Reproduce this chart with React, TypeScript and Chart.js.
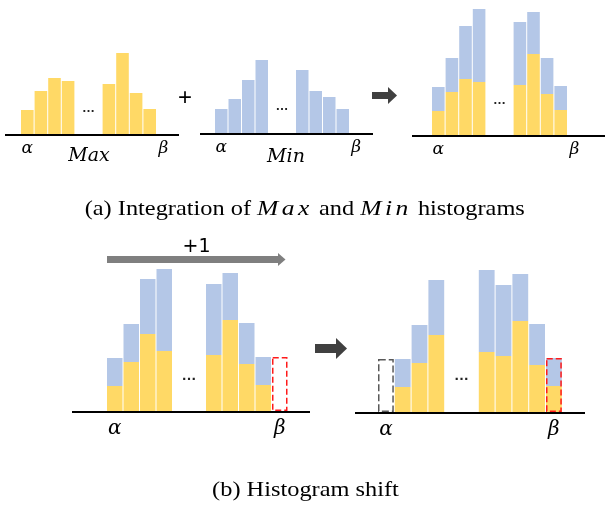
import React, { useEffect, useRef } from 'react';
import { Chart, registerables } from 'chart.js';

Chart.register(...registerables);

// ---------- data ----------
// Max / Min histograms (8 visible bins, "…" gap between bin 4 and bin 5)
const maxHist = [24, 43, 56, 53, 50, 81, 41, 25];
const minHist = [24, 34, 53, 73, 63, 42, 36, 24];
// Combined histogram used in the shift example (yellow = Max part, blue = Min part)
const shiftMax = [25, 49, 77, 60, 56, 91, 47, 26];
const shiftMin = [28, 38, 55, 82, 71, 47, 41, 28];
// tick labels for the 11 slots (4 bins, 2-slot gap, 4 bins, one extra slot)
const slotTicks = ['α', '', '', '', '', '', '', '', '', '', 'β'];
const gapSlots = [4, 5];

const YELLOW = '#FFD966';
const BLUE = '#B4C7E7';

// place a sequence of 9 values into the non-gap slots
const place = (seq: (number | null)[]) => {
  const out: (number | null)[] = [];
  let k = 0;
  for (let i = 0; i < slotTicks.length; i++) {
    if (gapSlots.includes(i)) out.push(null);
    else out.push(k < seq.length ? seq[k++] : null);
  }
  return out;
};
const unshifted = (bins: number[]) => place([...bins, null]);
const shifted = (bins: number[]) => place([null, ...bins]);
const total = (i: number) => shiftMax[i] + shiftMin[i];

const histPlugin = {
  id: 'hist',
  afterDatasetsDraw(chart: any, _a: any, opts: any) {
    const { ctx } = chart;
    const xs = chart.scales.x;
    const ys = chart.scales.y;
    chart.data.datasets.forEach((ds: any, di: number) => {
      if (!ds.outline) return;
      const meta = chart.getDatasetMeta(di);
      meta.data.forEach((el: any, i: number) => {
        if (ds.data[i] == null) return;
        const p = el.getProps(['x', 'y', 'base', 'width'], true);
        ctx.save();
        ctx.strokeStyle = ds.outlineColors[i];
        ctx.lineWidth = 1.5;
        ctx.setLineDash(ds.outlineDash[i]);
        ctx.strokeRect(p.x - p.width / 2 + 0.75, p.y + 0.75, p.width - 1.5, p.base - p.y - 1.5);
        ctx.restore();
      });
    });
    const y0 = ys.getPixelForValue(0);
    const gx = (xs.getPixelForValue(gapSlots[0]) + xs.getPixelForValue(gapSlots[1])) / 2;
    ctx.save();
    ctx.fillStyle = '#222';
    ctx.font = `bold ${opts.dotsSize}px "Liberation Sans"`;
    ctx.textAlign = 'center';
    ctx.textBaseline = 'middle';
    ctx.fillText('…', gx, y0 - opts.dotsLift);
    ctx.strokeStyle = '#000';
    ctx.lineWidth = 2;
    ctx.beginPath();
    ctx.moveTo(opts.lineFrom, y0 + 1);
    ctx.lineTo(opts.lineTo, y0 + 1);
    ctx.stroke();
    ctx.restore();
  },
};

type Cfg = {
  left: number; width: number; areaLeft: number; areaRight: number;
  lineFrom: number; lineTo: number; baseline: number; chartH: number;
  tickSize: number; tickPad: number; dotsLift: number; dotsSize: number;
  datasets: any[];
};

const AXIS_H = 32;

function Hist({ cfg }: { cfg: Cfg }) {
  const ref = useRef<HTMLCanvasElement>(null);
  useEffect(() => {
    const slot = (cfg.areaRight - cfg.areaLeft) / slotTicks.length;
    const bp = (slot - 1) / slot;
    const chart = new Chart(ref.current as HTMLCanvasElement, {
      type: 'bar',
      data: {
        labels: slotTicks,
        datasets: cfg.datasets.map((d) => ({
          borderWidth: 0,
          categoryPercentage: 1,
          barPercentage: bp,
          ...d,
        })),
      },
      options: {
        animation: false,
        responsive: false,
        devicePixelRatio: 1,
        events: [],
        layout: {
          padding: {
            left: cfg.areaLeft - cfg.left,
            right: cfg.left + cfg.width - cfg.areaRight,
            top: 0,
            bottom: 0,
          },
        },
        plugins: {
          legend: { display: false },
          tooltip: { enabled: false },
          hist: {
            lineFrom: cfg.lineFrom - cfg.left,
            lineTo: cfg.lineTo - cfg.left,
            dotsLift: cfg.dotsLift,
            dotsSize: cfg.dotsSize,
          },
        } as any,
        scales: {
          x: {
            stacked: true,
            grid: { display: false, drawTicks: false },
            border: { display: false },
            ticks: {
              autoSkip: false,
              maxRotation: 0,
              padding: cfg.tickPad,
              color: '#000',
              font: { family: '"DejaVu Serif"', style: 'italic', size: cfg.tickSize },
            },
            afterFit: (s: any) => { s.height = AXIS_H; },
          },
          y: { display: false, stacked: true, min: 0, max: cfg.chartH },
        },
      },
      plugins: [histPlugin],
    });
    return () => chart.destroy();
  }, []);
  return (
    <canvas
      ref={ref}
      width={cfg.width}
      height={cfg.chartH + AXIS_H}
      style={{ position: 'absolute', left: cfg.left, top: cfg.baseline - cfg.chartH }}
    />
  );
}

const outlineDs = (values: (number | null)[], colors: string[], dashes: number[][]) => ({
  data: values,
  outline: true,
  outlineColors: colors,
  outlineDash: dashes,
  backgroundColor: 'rgba(0,0,0,0)',
  grouped: false,
  stack: 'outline',
});

const RED = '#FF1A1A';
const GREY = '#595959';
const redDash = [6, 3];
const greyDash = [7, 3];

const panels: Cfg[] = [
  {
    left: 5, width: 176, areaLeft: 20.5, areaRight: 170.1, lineFrom: 5, lineTo: 179,
    baseline: 134, chartH: 134, tickSize: 17, tickPad: 4, dotsLift: 26, dotsSize: 13,
    datasets: [{ data: unshifted(maxHist), backgroundColor: YELLOW, stack: 'h' }],
  },
  {
    left: 200, width: 176, areaLeft: 214.5, areaRight: 363, lineFrom: 200, lineTo: 373,
    baseline: 133, chartH: 133, tickSize: 17, tickPad: 4, dotsLift: 27, dotsSize: 13,
    datasets: [{ data: unshifted(minHist), backgroundColor: BLUE, stack: 'h' }],
  },
  {
    left: 410, width: 196, areaLeft: 431.5, areaRight: 581.1, lineFrom: 412, lineTo: 605,
    baseline: 135, chartH: 135, tickSize: 17, tickPad: 4, dotsLift: 35, dotsSize: 13,
    datasets: [
      { data: unshifted(maxHist), backgroundColor: YELLOW, stack: 'h' },
      { data: unshifted(minHist), backgroundColor: BLUE, stack: 'h' },
    ],
  },
  {
    left: 70, width: 242, areaLeft: 106.5, areaRight: 288, lineFrom: 72, lineTo: 310,
    baseline: 411, chartH: 150, tickSize: 20, tickPad: 6, dotsLift: 35, dotsSize: 15,
    datasets: [
      { data: unshifted(shiftMax), backgroundColor: YELLOW, stack: 'h' },
      { data: unshifted(shiftMin), backgroundColor: BLUE, stack: 'h' },
      outlineDs(
        slotTicks.map((_, i) => (i === slotTicks.length - 1 ? total(shiftMax.length - 1) : null)),
        slotTicks.map(() => RED),
        slotTicks.map(() => redDash),
      ),
    ],
  },
  {
    left: 353, width: 234, areaLeft: 377.5, areaRight: 562.3, lineFrom: 355, lineTo: 585,
    baseline: 412, chartH: 150, tickSize: 20, tickPad: 6, dotsLift: 36, dotsSize: 15,
    datasets: [
      { data: shifted(shiftMax), backgroundColor: YELLOW, stack: 'h' },
      { data: shifted(shiftMin), backgroundColor: BLUE, stack: 'h' },
      outlineDs(
        slotTicks.map((_, i) =>
          i === 0 ? total(0) : i === slotTicks.length - 1 ? total(shiftMax.length - 1) : null),
        slotTicks.map((_, i) => (i === 0 ? GREY : RED)),
        slotTicks.map((_, i) => (i === 0 ? greyDash : redDash)),
      ),
    ],
  },
];

function Label({ x, y, style, children }: { x: number; y: number; style?: any; children: any }) {
  return (
    <div
      style={{
        position: 'absolute', left: x, top: y, transform: 'translate(-50%, -50%)',
        whiteSpace: 'nowrap', lineHeight: 1, color: '#000', ...style,
      }}
    >
      {children}
    </div>
  );
}

const mathFont = { fontFamily: '"DejaVu Serif"', fontStyle: 'italic', fontSize: 19 };
const capStyle: any = {
  position: 'absolute', left: 0, width: 610, textAlign: 'center',
  fontFamily: '"Liberation Serif"', fontSize: 21, lineHeight: '24px', color: '#000',
  whiteSpace: 'nowrap',
};
const capInner: any = { display: 'inline-block', transform: 'scaleX(1.16)' };
const capMath: any = { fontStyle: 'italic', fontSize: 22, letterSpacing: 3 };

export default function App() {
  return (
    <div style={{ position: 'absolute', left: 0, top: 0, width: 606, height: 511, overflow: 'hidden', background: '#fff' }}>
      {panels.map((p, i) => <Hist key={i} cfg={p} />)}
      <Label x={89} y={154} style={mathFont}>Max</Label>
      <Label x={286} y={155} style={mathFont}>Min</Label>
      <Label x={185} y={97} style={{ fontFamily: '"Liberation Sans"', fontSize: 24 }}>+</Label>
      <Label x={196.5} y={245} style={{ fontFamily: '"DejaVu Sans"', fontSize: 19 }}>+1</Label>
      <svg width={606} height={511} style={{ position: 'absolute', left: 0, top: 0, pointerEvents: 'none' }}>
        <rect x={372} y={92} width={16} height={7} fill="#404040" />
        <polygon points="388,87 397,95.5 388,104" fill="#404040" />
        <rect x={315} y={344} width={21} height={9} fill="#404040" />
        <polygon points="336,338 347,348.5 336,359" fill="#404040" />
        <rect x={107} y={256} width={171} height={7} fill="#7F7F7F" />
        <polygon points="278,253 285.5,259.5 278,266" fill="#7F7F7F" />
      </svg>
      <div style={{ ...capStyle, top: 196 }}>
        <span style={capInner}>
          (a) Integration of <span style={capMath}>Max</span> and <span style={capMath}>Min</span> histograms
        </span>
      </div>
      <div style={{ ...capStyle, top: 477 }}>
        <span style={capInner}>(b) Histogram shift</span>
      </div>
    </div>
  );
}
